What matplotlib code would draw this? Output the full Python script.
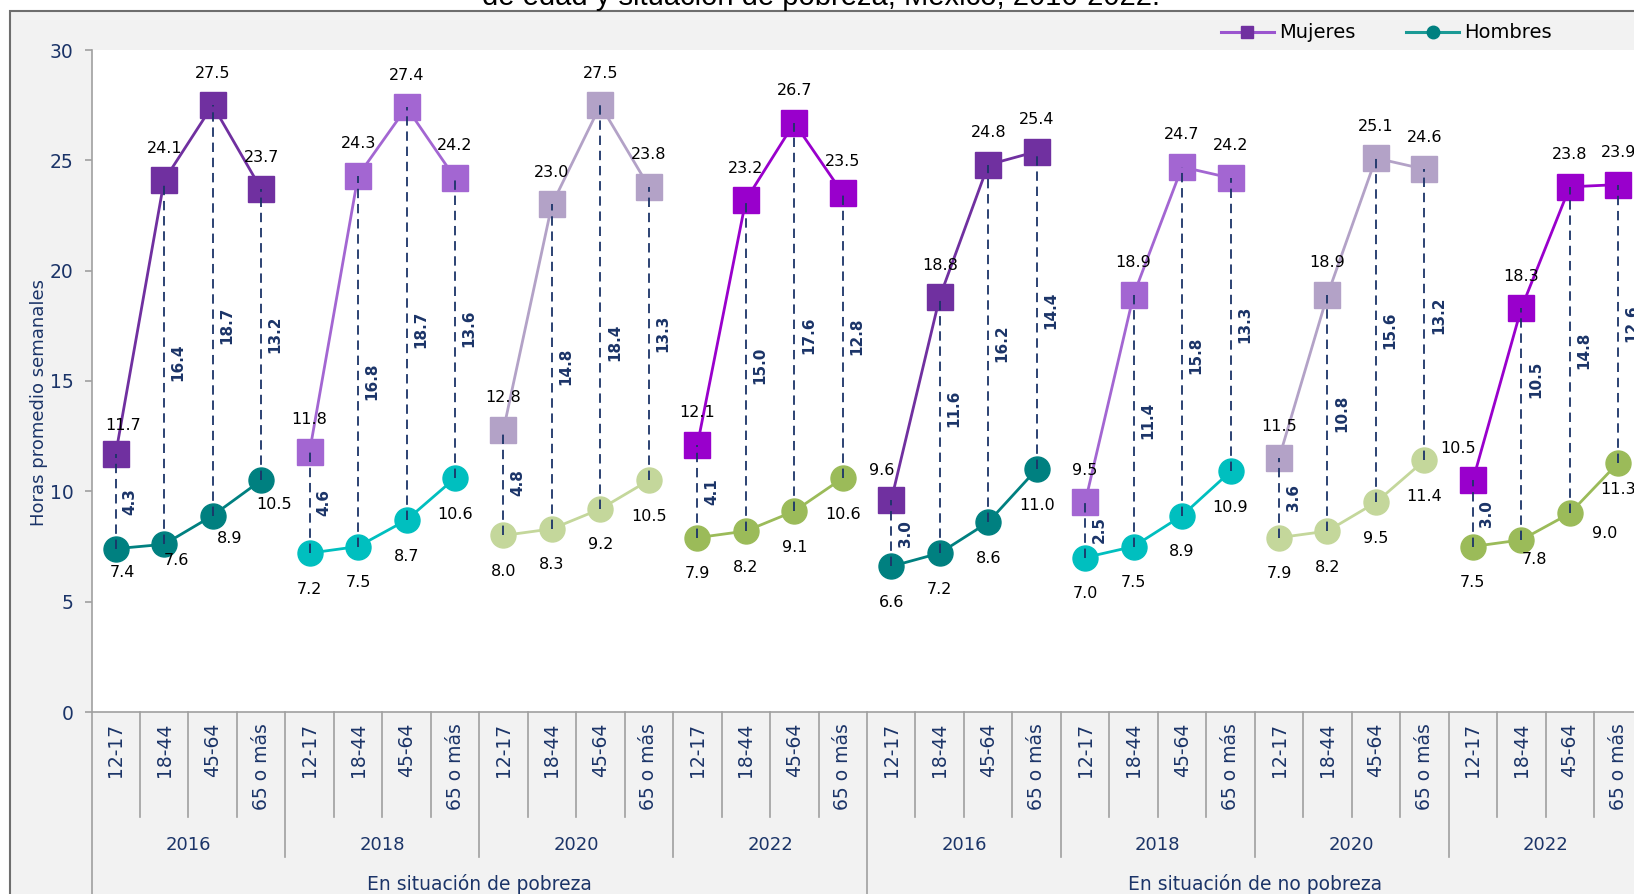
import numpy as np
import matplotlib.pyplot as plt
import matplotlib.transforms as mtransforms
from matplotlib.lines import Line2D
from matplotlib.patches import Rectangle

# --- data -------------------------------------------------------------
ages = ['12-17', '18-44', '45-64', '65 o más']
years = ['2016', '2018', '2020', '2022']
groups = ['En situación de pobreza', 'En situación de no pobreza']

mujeres = [11.7, 24.1, 27.5, 23.7, 11.8, 24.3, 27.4, 24.2,
           12.8, 23.0, 27.5, 23.8, 12.1, 23.2, 26.7, 23.5,
           9.6, 18.8, 24.8, 25.4, 9.5, 18.9, 24.7, 24.2,
           11.5, 18.9, 25.1, 24.6, 10.5, 18.3, 23.8, 23.9]
hombres = [7.4, 7.6, 8.9, 10.5, 7.2, 7.5, 8.7, 10.6,
           8.0, 8.3, 9.2, 10.5, 7.9, 8.2, 9.1, 10.6,
           6.6, 7.2, 8.6, 11.0, 7.0, 7.5, 8.9, 10.9,
           7.9, 8.2, 9.5, 11.4, 7.5, 7.8, 9.0, 11.3]
brecha = [4.3, 16.4, 18.7, 13.2, 4.6, 16.8, 18.7, 13.6,
          4.8, 14.8, 18.4, 13.3, 4.1, 15.0, 17.6, 12.8,
          3.0, 11.6, 16.2, 14.4, 2.5, 11.4, 15.8, 13.3,
          3.6, 10.8, 15.6, 13.2, 3.0, 10.5, 14.8, 12.6]

# --- style ------------------------------------------------------------
M_COLORS = ['#7030A0', '#A366D2', '#B3A2C7', '#9900CC']
H_COLORS = ['#008080', '#00BFBF', '#C4D79B', '#9BBB59']
NAVY = '#1B3468'
SEP = '#A0A0A0'

# label offsets in pixels where the original moved them by hand
m_off = {0: (7, 28), 16: (-10, 30), 28: (-15, 32)}
h_off = {0: (7, -24), 1: (12, -16), 2: (17, -23), 3: (13, -24),
         29: (13, -20), 30: (35, -20), 31: (0, -27)}
b_off = {2: -15, 5: -20, 6: -16, 10: -35, 14: -18, 17: 17, 22: -14, 29: 45}

W, H = 1634, 894
fig = plt.figure(figsize=(W / 100, H / 100), dpi=100)
fig.patch.set_facecolor('white')

# grey chart frame (only top and left edge fall inside the picture)
fig.add_artist(Rectangle((9.5 / W, -0.1), 1.2, 1.1 - 11 / H,
                         transform=fig.transFigure, facecolor='#F2F2F2',
                         edgecolor='#6E6E6E', lw=1.5, zorder=0))

n = len(mujeres)
ax_left, ax_top, ax_bot = 91.5 / W, 1 - 50 / H, 1 - 712 / H
cat_w = 48.47
ax = fig.add_axes([ax_left, ax_bot, n * cat_w / W, ax_top - ax_bot])
ax.set_facecolor('white')
ax.set_xlim(-0.5, n - 0.5)
ax.set_ylim(0, 30)

x = np.arange(n)
mj = np.array(mujeres)
hb = np.array(hombres)

for k in range(len(groups) * len(years)):
    s = slice(4 * k, 4 * k + 4)
    yi = k % 4
    ax.plot(x[s], hb[s], '-o', color=H_COLORS[yi], lw=2.0, ms=18,
            mec=H_COLORS[yi], zorder=3)
    ax.plot(x[s], mj[s], '-s', color=M_COLORS[yi], lw=2.0, ms=18.5,
            mec=M_COLORS[yi], mew=1, zorder=3)

ax.vlines(x, hb, mj, colors=NAVY, linestyles=(0, (5.2, 3.2)), lw=1.3,
          zorder=4)

for i in range(n):
    dx, dy = m_off.get(i, (0, 32))
    ax.annotate(f'{mujeres[i]:.1f}', (x[i], mj[i]), xytext=(dx, dy),
                textcoords='offset pixels', ha='center', va='center',
                fontsize=11.5, color='black', zorder=5)
    dx, dy = h_off.get(i, (0, -36))
    ax.annotate(f'{hombres[i]:.1f}', (x[i], hb[i]), xytext=(dx, dy),
                textcoords='offset pixels', ha='center', va='center',
                fontsize=11.5, color='black', zorder=5)
    ax.annotate(f'{brecha[i]:.1f}', (x[i], (mj[i] + hb[i]) / 2),
                xytext=(14, b_off.get(i, 0)), textcoords='offset pixels',
                ha='center', va='center', rotation=90, fontsize=11,
                fontweight='bold', color=NAVY, zorder=5)

# axes look
for side in ['top', 'right']:
    ax.spines[side].set_visible(False)
for side in ['left', 'bottom']:
    ax.spines[side].set_color(SEP)
    ax.spines[side].set_linewidth(1.2)
ax.set_yticks(np.arange(0, 31, 5))
ax.tick_params(axis='y', direction='out', length=5, width=1.2, color=SEP,
               labelcolor=NAVY, labelsize=13.5, pad=8)
ax.set_xticks([])

# multi-level category axis
px = 1 / (712 - 50)
trans = mtransforms.blended_transform_factory(ax.transData, ax.transAxes)
for b in range(n + 1):
    if b % 16 == 0:
        low = -(894 + 20 - 712) * px
    elif b % 4 == 0:
        low = -(857 - 712) * px
    else:
        low = -(817 - 712) * px
    ax.plot([b - 0.5, b - 0.5], [0, low], color=SEP, lw=1.2,
            transform=trans, clip_on=False)

for i in range(n):
    ax.text(x[i], -(723 - 712) * px, ages[i % 4], rotation=90, ha='center',
            va='top', fontsize=13.5, color=NAVY, transform=trans)
for k in range(len(groups) * len(years)):
    ax.text(4 * k + 1.5, -(845 - 712) * px, years[k % 4], ha='center',
            va='center', fontsize=13, color=NAVY, transform=trans)
for g, name in enumerate(groups):
    ax.text(16 * g + 7.5, -(884 - 712) * px, name, ha='center',
            va='center', fontsize=13.5, color=NAVY, transform=trans)

fig.text(39 / W, 1 - 403 / H, 'Horas promedio semanales', rotation=90,
         ha='center', va='center', fontsize=13, color=NAVY)

fig.text(820.5 / W, 1 - 5 / H,
         'de edad y situación de pobreza, México, 2016-2022.',
         ha='center', va='baseline', fontsize=21, color='black',
         family='Liberation Sans')

handles = [Line2D([], [], color='#9B55CF', lw=2.2, marker='s', ms=9,
                  mfc='#7030A0', mec='#7030A0'),
           Line2D([], [], color='#1A9A95', lw=2.2, marker='o', ms=9,
                  mfc='#008080', mec='#008080')]
fig.legend(handles, ['Mujeres', 'Hombres'], loc='center left',
           bbox_to_anchor=(1221 / W, 1 - 33 / H), ncol=2, frameon=False,
           fontsize=14, handlelength=2.7, handletextpad=0.3,
           columnspacing=2.6, borderpad=0, borderaxespad=0)

fig.savefig('out.png', dpi=100)
